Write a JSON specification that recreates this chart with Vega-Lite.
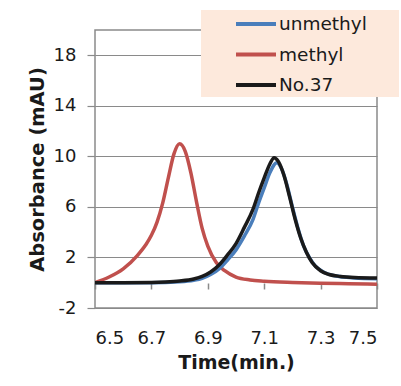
{
  "$schema": "https://vega.github.io/schema/vega-lite/v6.json",
  "autosize": "none",
  "width": 282,
  "height": 278,
  "padding": {"left": 95, "top": 30, "right": 24, "bottom": 78},
  "background": "white",
  "config": {
    "view": {"stroke": "#8a8a8a", "strokeWidth": 1.5},
    "font": "DejaVu Sans"
  },
  "data": {"values": [
    {"t": 6.50, "v": 0.0, "s": "methyl"},
    {"t": 6.55, "v": 0.45, "s": "methyl"},
    {"t": 6.60, "v": 1.1, "s": "methyl"},
    {"t": 6.65, "v": 2.15, "s": "methyl"},
    {"t": 6.68, "v": 3.0, "s": "methyl"},
    {"t": 6.70, "v": 3.75, "s": "methyl"},
    {"t": 6.72, "v": 4.8, "s": "methyl"},
    {"t": 6.74, "v": 6.3, "s": "methyl"},
    {"t": 6.76, "v": 8.3, "s": "methyl"},
    {"t": 6.78, "v": 10.2, "s": "methyl"},
    {"t": 6.80, "v": 11.0, "s": "methyl"},
    {"t": 6.82, "v": 10.4, "s": "methyl"},
    {"t": 6.84, "v": 8.7, "s": "methyl"},
    {"t": 6.86, "v": 6.4, "s": "methyl"},
    {"t": 6.88, "v": 4.3, "s": "methyl"},
    {"t": 6.90, "v": 2.9, "s": "methyl"},
    {"t": 6.93, "v": 1.6, "s": "methyl"},
    {"t": 6.96, "v": 0.95, "s": "methyl"},
    {"t": 7.00, "v": 0.45, "s": "methyl"},
    {"t": 7.05, "v": 0.22, "s": "methyl"},
    {"t": 7.10, "v": 0.12, "s": "methyl"},
    {"t": 7.20, "v": 0.02, "s": "methyl"},
    {"t": 7.30, "v": -0.04, "s": "methyl"},
    {"t": 7.40, "v": -0.08, "s": "methyl"},
    {"t": 7.50, "v": -0.12, "s": "methyl"},

    {"t": 6.50, "v": 0.0, "s": "unmethyl"},
    {"t": 6.70, "v": 0.0, "s": "unmethyl"},
    {"t": 6.80, "v": 0.08, "s": "unmethyl"},
    {"t": 6.85, "v": 0.2, "s": "unmethyl"},
    {"t": 6.88, "v": 0.35, "s": "unmethyl"},
    {"t": 6.91, "v": 0.65, "s": "unmethyl"},
    {"t": 6.94, "v": 1.1, "s": "unmethyl"},
    {"t": 6.97, "v": 1.8, "s": "unmethyl"},
    {"t": 7.00, "v": 2.6, "s": "unmethyl"},
    {"t": 7.03, "v": 3.7, "s": "unmethyl"},
    {"t": 7.06, "v": 5.0, "s": "unmethyl"},
    {"t": 7.08, "v": 6.3, "s": "unmethyl"},
    {"t": 7.10, "v": 7.5, "s": "unmethyl"},
    {"t": 7.12, "v": 8.7, "s": "unmethyl"},
    {"t": 7.145, "v": 9.5, "s": "unmethyl"},
    {"t": 7.16, "v": 9.1, "s": "unmethyl"},
    {"t": 7.18, "v": 7.8, "s": "unmethyl"},
    {"t": 7.20, "v": 6.0, "s": "unmethyl"},
    {"t": 7.22, "v": 4.3, "s": "unmethyl"},
    {"t": 7.24, "v": 2.9, "s": "unmethyl"},
    {"t": 7.26, "v": 2.0, "s": "unmethyl"},
    {"t": 7.28, "v": 1.35, "s": "unmethyl"},
    {"t": 7.31, "v": 0.85, "s": "unmethyl"},
    {"t": 7.35, "v": 0.55, "s": "unmethyl"},
    {"t": 7.42, "v": 0.38, "s": "unmethyl"},
    {"t": 7.50, "v": 0.32, "s": "unmethyl"},

    {"t": 6.50, "v": 0.0, "s": "No.37"},
    {"t": 6.60, "v": 0.0, "s": "No.37"},
    {"t": 6.70, "v": 0.02, "s": "No.37"},
    {"t": 6.75, "v": 0.06, "s": "No.37"},
    {"t": 6.80, "v": 0.14, "s": "No.37"},
    {"t": 6.85, "v": 0.3, "s": "No.37"},
    {"t": 6.88, "v": 0.5, "s": "No.37"},
    {"t": 6.91, "v": 0.85, "s": "No.37"},
    {"t": 6.94, "v": 1.4, "s": "No.37"},
    {"t": 6.97, "v": 2.2, "s": "No.37"},
    {"t": 7.00, "v": 3.1, "s": "No.37"},
    {"t": 7.03, "v": 4.4, "s": "No.37"},
    {"t": 7.06, "v": 5.8, "s": "No.37"},
    {"t": 7.08, "v": 7.1, "s": "No.37"},
    {"t": 7.10, "v": 8.3, "s": "No.37"},
    {"t": 7.12, "v": 9.4, "s": "No.37"},
    {"t": 7.135, "v": 9.9, "s": "No.37"},
    {"t": 7.15, "v": 9.6, "s": "No.37"},
    {"t": 7.17, "v": 8.5, "s": "No.37"},
    {"t": 7.19, "v": 6.8, "s": "No.37"},
    {"t": 7.21, "v": 5.0, "s": "No.37"},
    {"t": 7.23, "v": 3.5, "s": "No.37"},
    {"t": 7.25, "v": 2.4, "s": "No.37"},
    {"t": 7.27, "v": 1.6, "s": "No.37"},
    {"t": 7.30, "v": 0.95, "s": "No.37"},
    {"t": 7.33, "v": 0.65, "s": "No.37"},
    {"t": 7.37, "v": 0.5, "s": "No.37"},
    {"t": 7.42, "v": 0.42, "s": "No.37"},
    {"t": 7.50, "v": 0.38, "s": "No.37"}
  ]},
  "mark": {"type": "line", "interpolate": "monotone", "strokeWidth": 3.5, "clip": true},
  "encoding": {
    "x": {
      "field": "t", "type": "quantitative",
      "scale": {"domain": [6.5, 7.5], "nice": false, "zero": false},
      "axis": {
        "values": [6.5, 6.7, 6.9, 7.1, 7.3, 7.5],
        "format": ".1f",
        "title": "Time(min.)",
        "grid": false, "domain": false,
        "offset": -25,
        "tickSize": 6, "tickColor": "#8a8a8a", "tickWidth": 1.5,
        "labelFontSize": 18, "labelColor": "#1a1a1a", "labelPadding": 40,
        "labelFont": "DejaVu Sans",
        "titleFontSize": 19, "titleFontWeight": "bold", "titleColor": "#1a1a1a",
        "titleFont": "DejaVu Sans", "titlePadding": 6
      }
    },
    "y": {
      "field": "v", "type": "quantitative",
      "scale": {"domain": [-2, 20], "nice": false, "zero": false},
      "axis": {
        "values": [-2, 2, 6, 10, 14, 18],
        "labelExpr": "toString(datum.value)",
        "title": "Absorbance (mAU)",
        "grid": true, "gridColor": "#8a8a8a", "gridWidth": 1.2,
        "domain": false,
        "tickSize": 8, "tickColor": "#8a8a8a", "tickWidth": 1.2,
        "labelFontSize": 18, "labelColor": "#1a1a1a", "labelPadding": 11,
        "labelFont": "DejaVu Sans",
        "titleFontSize": 19.5, "titleFontWeight": "bold", "titleColor": "#1a1a1a",
        "titleFont": "DejaVu Sans", "titlePadding": 6
      }
    },
    "color": {
      "field": "s", "type": "nominal",
      "scale": {"domain": ["unmethyl", "methyl", "No.37"], "range": ["#4a7ebb", "#c0504d", "#1a1a1a"]},
      "legend": {
        "title": null, "orient": "none", "legendX": 106, "legendY": -20,
        "fillColor": "#fde9dc", "padding": 2,
        "symbolType": "M-2,0H2", "symbolStrokeWidth": 4, "symbolSize": 400,
        "symbolOffset": 41,
        "labelFontSize": 18.5, "labelFont": "DejaVu Sans", "labelColor": "#1a1a1a",
        "labelOffset": 11, "rowPadding": 8.5, "labelLimit": 300,
        "labelExpr": "datum.label + '\u00a0\u00a0\u00a0\u00a0\u00a0\u200b'"
      }
    }
  }
}
